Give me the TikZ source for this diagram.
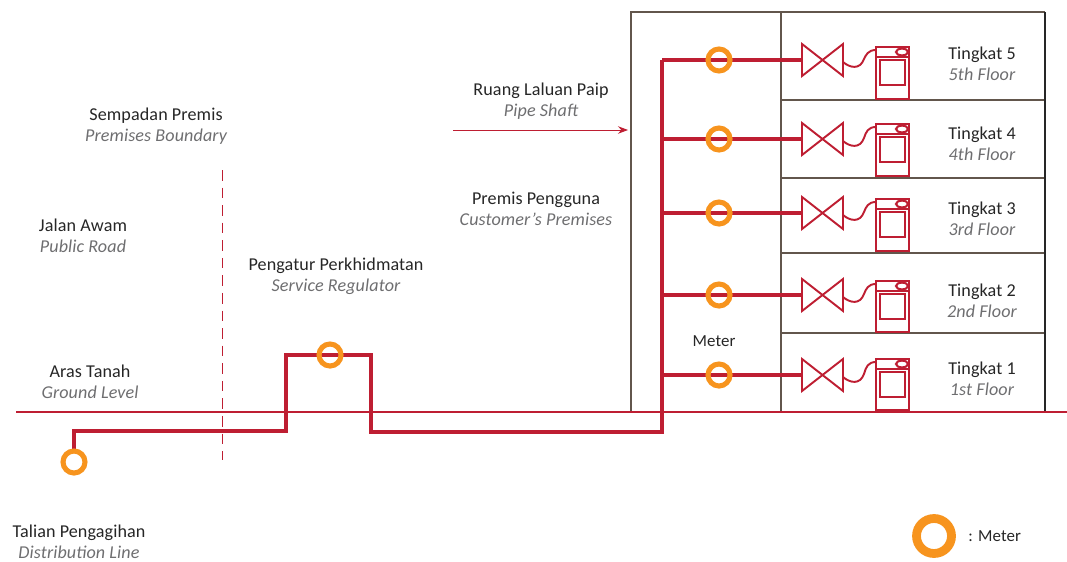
\documentclass[tikz,border=0pt]{standalone}
\usepackage{fontspec}
\setmainfont{Carlito}[LetterSpace=0.6]
\usepackage{tikz}
\usetikzlibrary{arrows.meta}
\definecolor{pipered}{RGB}{190,30,50}
\definecolor{wallgray}{RGB}{98,86,76}
\definecolor{ringorange}{RGB}{247,148,30}
\definecolor{subgray}{RGB}{110,110,112}
\tikzset{
  lbl/.style={align=center, inner sep=0pt, text=black!85, font=\fontsize{10.3}{11.9}\selectfont},
  wall/.style={wallgray, line width=1.4pt},
  pipe/.style={pipered, line width=2.8pt, line join=miter},
  thinred/.style={pipered, line width=0.55pt},
  ring/.style={circle, draw=ringorange, line width=2.9pt, inner sep=0pt, minimum size=0.44cm},
  bigring/.style={circle, draw=ringorange, line width=5pt, inner sep=0pt, minimum size=0.7cm},
  valve/.style={pipered, line width=1.1pt},
}
\newcommand{\twolbl}[2]{#1\\{\itshape\color{subgray}#2}}
\begin{document}
\begin{tikzpicture}[x=0.02cm, y=-0.02cm]
 \useasboundingbox (0,0) rectangle (1067,561);
 % building
 \draw[wall] (631,411) -- (631,12) -- (1045,12);
 \draw[wall] (781,12) -- (781,411);
 \foreach \yy in {100,178,253,333}{
   \draw[wall] (781,\yy) -- (1045,\yy);}
 \draw[black!85, line width=1.4pt] (1045,12) -- (1045,411);
 % ground and boundary
 \coordinate (gndL) at (16,412);
 \coordinate (gndR) at (1067,412);
 \draw[pipered, line width=1.1pt] (gndL) -- (gndR);
 \coordinate (bndT) at (222,170);
 \coordinate (bndB) at (222,460);
 \draw[thinred, dash pattern=on 6pt off 4pt] (bndT) -- (bndB);
 % pipe shaft arrow
 \coordinate (arrS) at (453,130);
 \coordinate (arrE) at (628,130);
 \draw[thinred, -{Stealth[length=2mm]}] (arrS) -- (arrE);
 % main line
 \coordinate (distPos) at (74,462);
 \coordinate (regPos) at (330,355);
 \coordinate (riserT) at (662,60);
 \draw[pipe] (distPos) -- (74,431) -- (286,431) -- (286,355) -- (regPos) -- (371,355)
   -- (371,432) -- (662,432) -- (riserT);
 \node[ring, fill=white] (ringDist) at (distPos) {};
 \node[ring] (ringReg) at (regPos) {};
 % floors
 \foreach \yy/\wt/\wb/\n/\nth/\ty in {60/47/99/5/5th/53, 139/124/176/4/4th/133, 213/199/251/3/3rd/208, 295/281/332/2/2nd/290, 375/359/410/1/1st/368}{
   \coordinate (riser\n) at (662,\yy);
   \coordinate (valve\n) at (802,\yy);
   \draw[pipe] (riser\n) -- (valve\n);
   \node[ring] (meter\n) at (719,\yy) {};
   \draw[valve] (802,\yy-16) -- (843,\yy+16) -- (843,\yy-16) -- (802,\yy+16) -- cycle;
   % washer
   \draw[valve, line width=1.5pt] (876,\wt) rectangle (909,\wb);
   \draw[valve] (880,\wt+13) rectangle (905,\wt+38);
   \draw[valve] (876,\wt+10) -- (909,\wt+10);
   \draw[pipered, line width=1.2pt, fill=white] (902,\wt+5) ellipse (6 and 3.4);
   % hose
   \draw[valve] (843,\yy+2) .. controls (850,\yy+8) and (860,\yy+10) .. (864,\yy-1)
     .. controls (866,\wt+8) and (868,\wt+3) .. (876,\wt+3);
   \node[lbl] (floor\n) at (982,\ty+10.5) {\twolbl{Tingkat \n}{\nth\ Floor}};
 }
 % labels
 \node[lbl] (boundaryLbl) at (156,126) {\twolbl{Sempadan Premis}{Premises Boundary}};
 \node[lbl] (roadLbl) at (83,235.5) {\twolbl{Jalan Awam}{Public Road}};
 \node[lbl] (regLbl) at (336,276.5) {\twolbl{Pengatur Perkhidmatan}{Service Regulator}};
 \node[lbl] (groundLbl) at (90,381.5) {\twolbl{Aras Tanah}{Ground Level}};
 \node[lbl] (distLbl) at (79,542) {\twolbl{Talian Pengagihan}{Distribution Line}};
 \node[lbl] (shaftLbl) at (541,101) {\twolbl{Ruang Laluan Paip}{Pipe Shaft}};
 \node[lbl] (premLbl) at (536,208.5) {\twolbl{Premis Pengguna}{Customer's Premises}};
 \node[lbl, font=\fontsize{9.6}{11.9}\selectfont] (meterLbl) at (714,341) {Meter};
 % legend
 \node[bigring] (ringKey) at (934,536) {};
 \node[lbl, font=\fontsize{9.6}{11.9}\selectfont, anchor=west] (keyLbl) at (968,536) {: Meter};
\end{tikzpicture}
\end{document}
